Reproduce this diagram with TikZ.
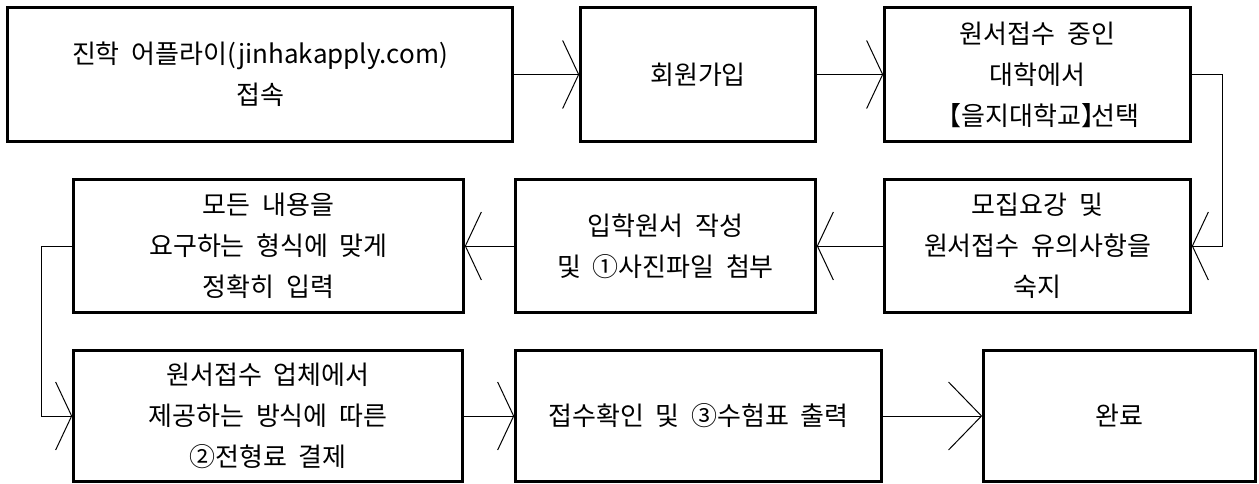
\documentclass[tikz,border=0pt]{standalone}
\usepackage{fontspec}
\setmainfont[WordSpace=2]{Noto Sans CJK KR}
\usetikzlibrary{arrows.meta, positioning}

\begin{document}
\begin{tikzpicture}[x=1pt, y=-1pt, font=\fontsize{26}{41}\selectfont,
        flowbox/.style={draw, line width=2.6pt, align=center, inner sep=0pt, minimum height=134pt},
        flowline/.style={line width=1pt, -{Straight Barb[length=16pt, width=68pt]}},
        longline/.style={line width=1pt, -{Straight Barb[length=33pt, width=68pt]}},
      ]
        \useasboundingbox (0,0) rectangle (1259,484);

        % First row
        \node[flowbox, minimum width=505pt] (join) at (260,74.5) {진학 어플라이(jinhakapply.com)\\접속};
        \node[flowbox, minimum width=235pt] (member) at (698,74.5) {회원가입};
        \node[flowbox, minimum width=306pt] (univ) at (1037.5,74.5) {원서접수 중인\\대학에서\\【을지대학교】\hspace{-0.6em}선택};

        % Second row
        \node[flowbox, minimum width=306pt, minimum height=133pt] (guide) at (1037.5,246) {모집요강 및\\원서접수 유의사항을\\숙지};
        \node[flowbox, minimum width=300pt, minimum height=133pt] (form) at (665.5,246) {입학원서 작성\\및 ①사진파일 첨부};
        \node[flowbox, minimum width=390pt, minimum height=133pt] (input) at (268.5,246) {모든 내용을\\요구하는 형식에 맞게\\정확히 입력};

        % Third row
        \node[flowbox, minimum width=389pt, minimum height=131pt] (pay) at (268,416) {원서접수 업체에서\\제공하는 방식에 따른\\②전형료 결제};
        \node[flowbox, minimum width=366pt, minimum height=131pt] (print) at (698.5,416) {접수확인 및 ③수험표 출력};
        \node[flowbox, minimum width=272pt, minimum height=131pt] (done) at (1119.5,416) {완료};

        % Arrows along the rows
        \draw[flowline] (join.east) -- (member.west);
        \draw[flowline] (member.east) -- (univ.west);
        \draw[flowline] (guide.west) -- (form.east);
        \draw[flowline] (form.west) -- (input.east);
        \draw[flowline] (pay.east) -- (print.west);
        \draw[longline] (print.east) -- (done.west);

        % Arrows between the rows
        \draw[flowline] (univ.east) -- ++(31,0) |- (guide.east);
        \draw[flowline] (input.west) -- ++(-31,0) |- (pay.west);
      \end{tikzpicture}
\end{document}
